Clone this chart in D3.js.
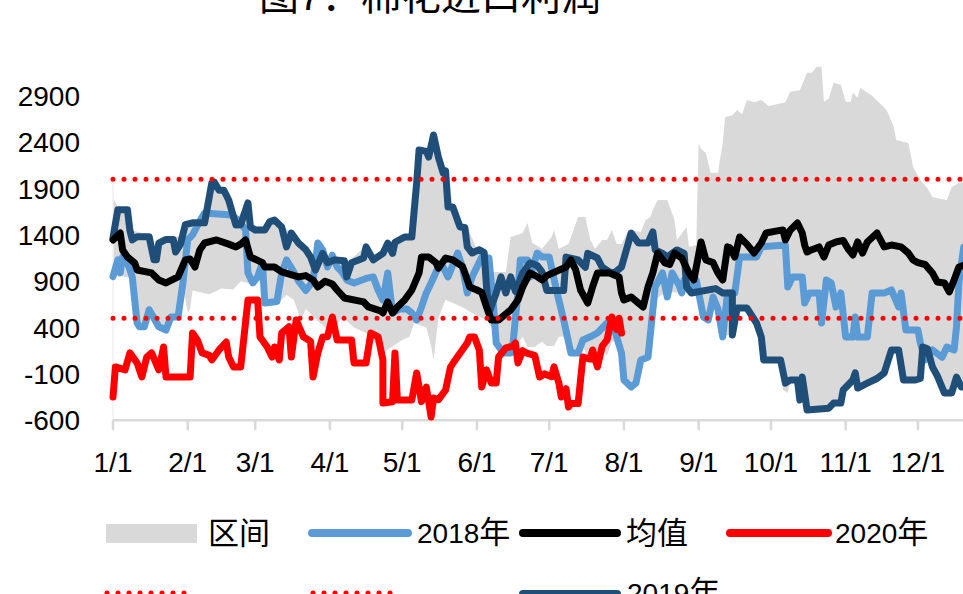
<!DOCTYPE html>
<html>
<head>
<meta charset="utf-8">
<script src="https://cdn.jsdelivr.net/npm/d3@7"></script>
<style>
  body { margin: 0; background: #fff; }
  svg { display: block; }
</style>
</head>
<body>
<div id="chart"></div>
<script>
const WIDTH = 963;
const HEIGHT = 594;
const LATIN = 'Liberation Sans, Arial, sans-serif';
const CJK = 'Noto Sans CJK SC, sans-serif';

// x is day of year (0 = 1/1)
const monthDays = [0, 31, 59, 90, 120, 151, 181, 212, 243, 273, 304, 334];
const monthLabels = ['1/1', '2/1', '3/1', '4/1', '5/1', '6/1', '7/1', '8/1', '9/1', '10/1', '11/1', '12/1'];
const yTicks = [-600, -100, 400, 900, 1400, 1900, 2400, 2900];
const refLines = [2000, 500];

// grey band: upper and lower edge, [day, value]
const bandHigh = [[0,1800],[2,1700],[6,1700],[8,1450],[15,1400],[17,1200],[19,1330],[25,1360],[28,1400],[30,1520],[38,1540],[41,1970],[44,1900],[48,1780],[51,1560],[56,1750],[58,1500],[63,1480],[67,1570],[70,1490],[74,1430],[77,1320],[82,1170],[84,1100],[87,1210],[92,1140],[97,1100],[105,1280],[108,1150],[114,1320],[117,1330],[124,1400],[126,1960],[127,2320],[130,2320],[133,2490],[135,2250],[137,2080],[139,2100],[141,1710],[144,1500],[147,1480],[151,1250],[155,1230],[157,1000],[163,1000],[165,1377],[170,1420],[172,1528],[174,1312],[178,1250],[182,1377],[183,1453],[185,1250],[189,1300],[193,1593],[196,1593],[198,1350],[200,1250],[203,1345],[205,1345],[207,1453],[209,1300],[211,1300],[214,1453],[219,1430],[221,1561],[223,1593],[224,1669],[226,1776],[230,1776],[233,1561],[234,1345],[238,1485],[239,1270],[242,1290],[243,2392],[244,2330],[246,2284],[248,2067],[251,2070],[253,2392],[254,2672],[257,2690],[259,2748],[261,2700],[263,2856],[266,2830],[269,2856],[272,2790],[274,2802],[279,2830],[281,2943],[285,2960],[288,3148],[290,3150],[292,3213],[294,3213],[295,2835],[297,2870],[299,3040],[302,3020],[304,2835],[306,2830],[307,2932],[309,2880],[310,2986],[313,2932],[315,2900],[318,2824],[321,2748],[324,2565],[325,2424],[327,2410],[330,2392],[332,2133],[335,1992],[338,1900],[340,1809],[343,1790],[346,1776],[348,1916],[351,1960],[355,1980],[364,2000]];
const bandLow = [[0,900],[2,1100],[4,950],[8,930],[10,440],[13,400],[15,560],[17,480],[19,400],[22,360],[24,500],[27,500],[29,850],[31,560],[32,600],[33,800],[40,760],[45,820],[50,810],[53,900],[56,880],[58,850],[60,900],[62,900],[63,650],[68,650],[70,700],[72,750],[75,700],[78,480],[80,600],[85,470],[88,400],[92,373],[95,520],[100,400],[105,341],[110,200],[112,126],[115,180],[120,266],[123,300],[125,450],[130,400],[132,200],[133,50],[135,500],[138,700],[145,620],[150,540],[155,480],[157,400],[159,190],[162,126],[165,126],[167,190],[170,300],[172,190],[175,190],[178,250],[180,200],[183,200],[185,300],[187,300],[190,126],[193,126],[195,200],[198,18],[200,0],[203,150],[205,100],[207,250],[209,250],[211,126],[212,-166],[215,-242],[217,-200],[219,50],[222,80],[224,589],[225,700],[228,760],[230,730],[232,780],[236,773],[240,790],[242,850],[245,514],[247,482],[249,600],[251,560],[253,298],[255,320],[257,320],[259,600],[263,600],[267,449],[269,298],[270,50],[277,50],[278,-274],[280,-307],[281,-166],[284,-166],[285,-382],[286,-134],[288,-490],[297,-470],[299,-415],[302,-415],[303,-274],[307,-166],[308,-90],[309,-253],[313,-200],[320,-90],[323,158],[326,158],[328,-166],[333,-166],[335,-150],[336,190],[338,50],[340,-25],[342,-120],[345,-307],[348,-307],[350,-134],[352,-242],[364,-250]];

const s2018 = [[0,950],[2,1130],[3,990],[4,1160],[6,1100],[8,946],[10,449],[11,408],[13,408],[15,592],[17,500],[19,408],[22,373],[24,514],[27,514],[29,881],[31,1345],[33,1400],[37,1593],[38,1636],[49,1614],[52,1560],[55,1453],[56,989],[58,881],[60,946],[62,1097],[63,665],[68,680],[70,989],[72,1129],[75,1000],[77,900],[80,800],[83,900],[85,1312],[87,1237],[89,1053],[91,1180],[93,1053],[95,1000],[97,913],[100,881],[105,930],[108,946],[110,805],[112,697],[114,989],[116,557],[119,600],[122,600],[124,557],[126,482],[128,620],[130,773],[132,881],[135,1053],[137,1053],[139,946],[143,1204],[145,1053],[147,773],[149,946],[153,1161],[156,1150],[158,589],[159,233],[162,126],[165,126],[166,233],[168,773],[169,1129],[172,1129],[173,946],[176,1204],[178,1161],[181,1161],[184,805],[187,482],[190,126],[193,126],[195,266],[198,300],[201,341],[205,449],[207,470],[209,298],[211,126],[212,-166],[215,-242],[217,-200],[219,50],[222,80],[224,589],[225,838],[228,989],[230,730],[232,989],[235,850],[236,773],[237,913],[239,805],[242,913],[245,514],[247,482],[249,730],[251,600],[253,298],[255,773],[258,773],[260,1161],[267,1161],[269,1270],[279,1290],[280,838],[282,946],[286,946],[287,665],[289,773],[293,773],[294,449],[296,913],[298,880],[300,622],[302,773],[304,298],[307,298],[308,514],[309,298],[313,298],[315,773],[320,773],[323,805],[326,622],[327,773],[329,373],[334,373],[335,233],[337,50],[340,158],[344,80],[346,190],[349,158],[350,408],[351,881],[353,1270],[364,1300]];

const s2019 = [[0,1370],[2,1670],[6,1670],[7,1450],[8,1345],[10,1380],[15,1380],[17,1130],[18,1130],[19,1310],[22,1350],[25,1350],[26,1215],[28,1300],[30,1510],[33,1530],[38,1530],[41,1960],[42,1970],[44,1880],[46,1880],[48,1776],[51,1507],[53,1510],[56,1744],[57,1485],[59,1453],[63,1453],[65,1540],[67,1560],[70,1485],[72,1270],[74,1420],[77,1310],[80,1240],[82,1160],[84,1020],[87,1200],[89,1100],[92,1130],[96,1120],[97,946],[99,1100],[104,1150],[105,1270],[108,1130],[112,1200],[114,1310],[116,1200],[117,1320],[121,1377],[124,1377],[125,1669],[126,1960],[127,2316],[130,2300],[131,2240],[133,2478],[135,2240],[137,2067],[138,2090],[139,1700],[141,1700],[144,1485],[146,1480],[147,1270],[149,1204],[152,1240],[154,1210],[155,838],[156,557],[159,773],[161,946],[163,773],[165,946],[167,790],[168,850],[170,989],[173,1097],[176,1070],[178,1000],[180,800],[187,800],[188,1160],[193,1129],[196,1050],[197,1200],[201,1150],[203,1050],[206,1000],[208,989],[211,1053],[215,1420],[218,1312],[222,1312],[224,1431],[225,1237],[228,1200],[230,1161],[232,1200],[234,1237],[237,1200],[238,838],[240,773],[250,820],[253,773],[257,773],[257,320],[259,611],[263,611],[267,449],[269,298],[270,50],[277,50],[279,-200],[281,-166],[284,-166],[285,-382],[286,-134],[288,-490],[297,-470],[299,-415],[302,-415],[303,-274],[307,-166],[308,-90],[309,-253],[313,-200],[317,-150],[320,-90],[323,158],[326,158],[328,-166],[333,-166],[335,-150],[336,190],[338,170],[340,-25],[342,-120],[345,-307],[348,-307],[350,-134],[352,-242],[364,-250]];

const sMean = [[0,1345],[3,1420],[4,1237],[6,1161],[9,1097],[10,1021],[16,989],[19,913],[22,881],[27,946],[30,1129],[32,1140],[34,1053],[36,1237],[38,1312],[43,1345],[48,1300],[51,1270],[53,1300],[55,1345],[57,1161],[62,1100],[63,1053],[67,1053],[70,1000],[77,946],[80,960],[83,913],[85,838],[88,900],[91,870],[93,805],[96,719],[104,676],[106,622],[111,580],[112,557],[114,676],[116,557],[118,622],[121,697],[124,805],[127,989],[128,1161],[131,1161],[134,1100],[135,1040],[138,1150],[141,1129],[145,1060],[146,989],[148,838],[151,805],[153,780],[155,622],[157,482],[160,482],[165,589],[168,697],[170,838],[173,989],[176,950],[178,913],[180,960],[188,1053],[190,1129],[192,1021],[194,805],[197,665],[199,838],[201,989],[206,989],[210,946],[211,773],[212,697],[215,730],[220,622],[222,838],[224,989],[226,1204],[229,1097],[231,1080],[233,1204],[236,1150],[239,989],[241,913],[244,1323],[246,1129],[249,1100],[251,989],[253,913],[255,1270],[256,1260],[258,1161],[260,1377],[263,1300],[266,1204],[269,1312],[271,1420],[275,1440],[278,1453],[279,1345],[281,1450],[284,1528],[286,1420],[287,1290],[288,1215],[290,1240],[293,1270],[295,1161],[297,1290],[300,1323],[303,1340],[305,1250],[307,1183],[309,1323],[311,1204],[313,1323],[317,1420],[320,1270],[323,1290],[327,1270],[330,1204],[332,1129],[334,1100],[337,1080],[340,989],[342,892],[345,880],[347,784],[349,913],[351,1053],[353,1070],[364,1080]];

const s2020 = [[0,-350],[1,-25],[5,-57],[7,126],[10,18],[12,-134],[14,80],[16,126],[19,-57],[21,190],[22,-134],[32,-134],[33,341],[35,266],[37,126],[40,100],[41,50],[44,158],[47,244],[48,82],[50,-25],[53,-25],[56,697],[60,697],[61,298],[64,190],[66,82],[67,190],[69,50],[70,341],[73,408],[74,82],[76,482],[79,300],[82,250],[83,-134],[85,126],[87,298],[89,300],[91,514],[93,266],[99,266],[100,18],[105,18],[107,341],[110,300],[112,50],[112,-415],[116,-400],[117,126],[118,-382],[124,-382],[126,-90],[128,-400],[130,-242],[132,-565],[133,-360],[135,-380],[138,-274],[140,-30],[142,50],[145,160],[147,233],[148,298],[150,298],[152,158],[153,-242],[155,-57],[157,-198],[159,-198],[160,82],[163,180],[166,200],[167,233],[168,18],[170,150],[172,120],[175,100],[177,-134],[179,-100],[182,-130],[183,-25],[185,-198],[186,-350],[188,-260],[189,-458],[190,-420],[193,-420],[194,-166],[195,82],[198,60],[199,158],[201,-25],[203,200],[205,266],[207,514],[209,380],[210,500],[211,340]];

const COLOR_BAND = '#d9d9d9';
const COLOR_2018 = '#5b9bd5';
const COLOR_2019 = '#1f4e79';
const COLOR_MEAN = '#000000';
const COLOR_2020 = '#ff0000';
const LINE_W = 7;

const svg = d3.select('#chart')
  .append('svg')
    .attr('width', WIDTH)
    .attr('height', HEIGHT);

const xscale = d3.scaleLinear().domain([0, 364]).range([113, 113 + 364 * 2.41]);
const yscale = d3.scaleLinear().domain([-600, 3400]).range([420.2, 49.5]);

const line = d3.line()
  .x(d => xscale(d[0]))
  .y(d => yscale(d[1]));

// text with latin and cjk runs in different fonts
const mixedText = (sel, str, latinSize, cjkSize) => {
  const runs = str.match(/[\u3000-\u9fff\uff00-\uffef]+|[^\u3000-\u9fff\uff00-\uffef]+/g);
  runs.forEach(r => {
    const isCjk = /[\u3000-\u9fff\uff00-\uffef]/.test(r);
    sel.append('tspan')
      .style('font-family', isCjk ? CJK : LATIN)
      .style('font-size', (isCjk ? cjkSize : latinSize) + 'px')
      .text(r);
  });
};

// title (cut at top edge, as in the source picture)
const title = svg.append('text')
  .attr('x', 430)
  .attr('y', 10)
  .attr('text-anchor', 'middle')
  .attr('fill', '#000');
mixedText(title, '图7：棉花进口利润', 40, 40);

// band
svg.append('path')
  .attr('d', line(bandHigh.concat(bandLow.slice().reverse())) + 'Z')
  .attr('fill', COLOR_BAND);

// faint value axis line
svg.append('line')
  .attr('x1', xscale(0)).attr('x2', xscale(0))
  .attr('y1', yscale(2000)).attr('y2', yscale(-600))
  .attr('stroke', '#f0f0f0')
  .attr('stroke-width', 1.5);

// category axis
svg.append('line')
  .attr('x1', xscale(0)).attr('x2', WIDTH)
  .attr('y1', yscale(-600)).attr('y2', yscale(-600))
  .attr('stroke', COLOR_BAND)
  .attr('stroke-width', 2.5);

svg.selectAll('.tick')
  .data(monthDays)
  .enter()
  .append('line')
    .attr('class', 'tick')
    .attr('x1', d => xscale(d)).attr('x2', d => xscale(d))
    .attr('y1', yscale(-600)).attr('y2', yscale(-600) + 10)
    .attr('stroke', COLOR_BAND)
    .attr('stroke-width', 2.5);

svg.selectAll('.xlabel')
  .data(monthDays)
  .enter()
  .append('text')
    .attr('class', 'xlabel')
    .attr('x', d => xscale(d))
    .attr('y', 472)
    .attr('text-anchor', 'middle')
    .style('font-family', LATIN)
    .style('font-size', '28px')
    .text((d, i) => monthLabels[i]);

svg.selectAll('.ylabel')
  .data(yTicks)
  .enter()
  .append('text')
    .attr('class', 'ylabel')
    .attr('x', 80)
    .attr('y', d => yscale(d))
    .attr('dy', '0.36em')
    .attr('text-anchor', 'end')
    .style('font-family', LATIN)
    .style('font-size', '28px')
    .text(d => d);

// series
const series = [
  { data: s2018, color: COLOR_2018 },
  { data: s2019, color: COLOR_2019 },
  { data: sMean, color: COLOR_MEAN },
  { data: s2020, color: COLOR_2020 }
];

series.forEach(s => {
  svg.append('path')
    .attr('d', line(s.data))
    .attr('fill', 'none')
    .attr('stroke', s.color)
    .attr('stroke-width', LINE_W)
    .attr('stroke-linejoin', 'round')
    .attr('stroke-linecap', 'round');
});

// dotted reference lines
svg.selectAll('.ref')
  .data(refLines)
  .enter()
  .append('line')
    .attr('class', 'ref')
    .attr('x1', xscale(0)).attr('x2', WIDTH + 5)
    .attr('y1', d => yscale(d)).attr('y2', d => yscale(d))
    .attr('stroke', COLOR_2020)
    .attr('stroke-width', 5)
    .attr('stroke-linecap', 'round')
    .attr('stroke-dasharray', '0 11');

// legend
const legend = svg.append('g').attr('class', 'legend');

legend.append('rect')
  .attr('x', 106).attr('y', 524)
  .attr('width', 91).attr('height', 19)
  .attr('fill', COLOR_BAND);

const legendLines = [
  { x1: 312, x2: 408, y: 533, color: COLOR_2018 },
  { x1: 523, x2: 617, y: 533, color: COLOR_MEAN },
  { x1: 730, x2: 828, y: 533, color: COLOR_2020 },
  { x1: 523, x2: 617, y: 594, color: COLOR_2019 }
];
legendLines.forEach(l => {
  legend.append('line')
    .attr('x1', l.x1).attr('x2', l.x2)
    .attr('y1', l.y).attr('y2', l.y)
    .attr('stroke', l.color)
    .attr('stroke-width', 8)
    .attr('stroke-linecap', 'round');
});

[[107, 195], [313, 395]].forEach(p => {
  legend.append('line')
    .attr('x1', p[0]).attr('x2', p[1])
    .attr('y1', 593).attr('y2', 593)
    .attr('stroke', COLOR_2020)
    .attr('stroke-width', 5)
    .attr('stroke-linecap', 'round')
    .attr('stroke-dasharray', '0 11');
});

const legendTexts = [
  { x: 208, y: 544, label: '区间' },
  { x: 417, y: 543, label: '2018年' },
  { x: 626, y: 544, label: '均值' },
  { x: 835, y: 543, label: '2020年' },
  { x: 627, y: 603, label: '2019年' }
];
legendTexts.forEach(t => {
  const txt = legend.append('text')
    .attr('x', t.x)
    .attr('y', t.y)
    .attr('fill', '#000');
  mixedText(txt, t.label, 28, 31);
});
</script>
</body>
</html>
